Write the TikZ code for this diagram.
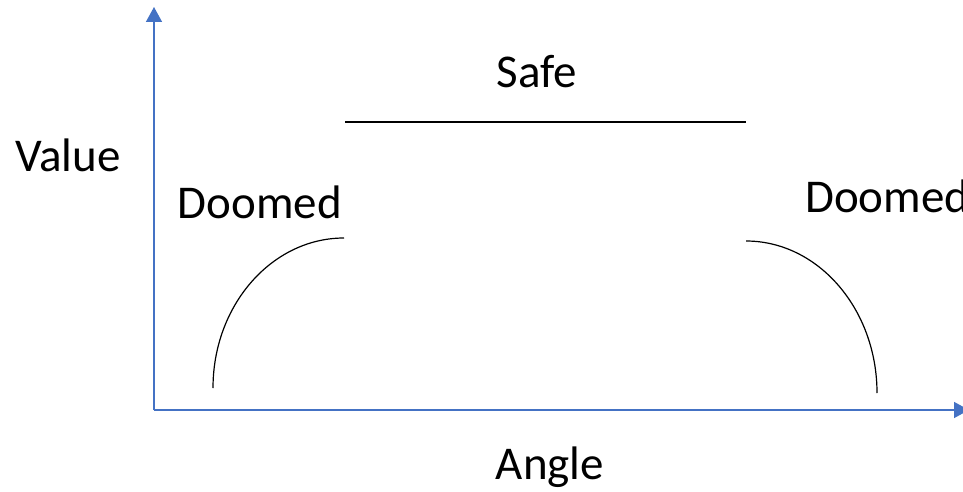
\documentclass[tikz,border=0pt]{standalone}
\usepackage{fontspec}
\setmainfont{Carlito}
\usetikzlibrary{arrows.meta}
\definecolor{axisblue}{HTML}{4472C4}
\tikzset{
    axis/.style={draw=axisblue, line width=1.5pt, -{Triangle[length=15pt, width=16pt]}},
    curve/.style={draw=black, line width=1.2pt},
    lbl/.style={font=\fontsize{47}{56}\selectfont, inner sep=0pt}
}
\begin{document}
\begin{tikzpicture}[x=1pt, y=-1pt]
    \useasboundingbox (0,0) rectangle (963,492);
    % axes
    \coordinate (origin) at (154,410);
    \coordinate (ytip) at (154,7);
    \coordinate (xtip) at (969,410);
    \draw[axis] (origin) -- (ytip);
    \draw[axis] (origin) -- (xtip);
    % labels
    \node[lbl] (value) at (68,155) {Value};
    \node[lbl] (angle) at (550,467) {Angle};
    \node[lbl] (safe) at (537,72) {Safe};
    \node[lbl] (doomedL) at (260,202) {Doomed};
    \node[lbl, anchor=west] (doomedR) at (805,196) {Doomed};
    % safe level and the two falling edges
    \coordinate (safeL) at (345,122);
    \coordinate (safeR) at (746,122);
    \coordinate (arcLlow) at (213,388);
    \coordinate (arcLtop) at (344,238);
    \coordinate (arcRtop) at (746,241);
    \coordinate (arcRlow) at (877,393);
    \draw[curve] (safeL) -- (safeR);
    \draw[curve] (arcLlow) .. controls (213,305) and (272,238) .. (arcLtop);
    \draw[curve] (arcRtop) .. controls (818,241) and (877,309) .. (arcRlow);
\end{tikzpicture}
\end{document}
